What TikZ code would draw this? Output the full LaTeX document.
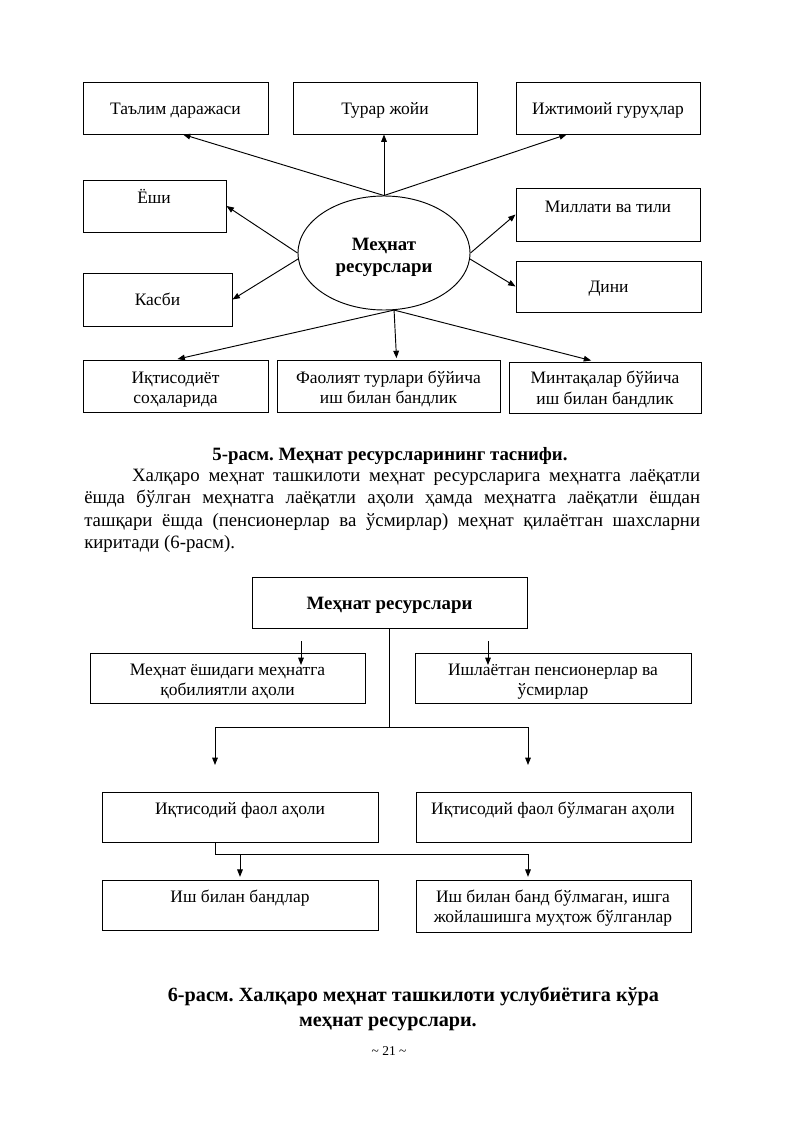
\documentclass[tikz,border=0pt]{standalone}
\usepackage{fontspec}
\setmainfont{Liberation Serif}
\frenchspacing
\usetikzlibrary{arrows.meta,shapes.geometric,fit,calc}
\begin{document}
\begin{tikzpicture}[x=0.74375pt,y=-0.74375pt,
  box/.style={draw,line width=0.7pt,inner sep=0pt,rectangle},
  lbl/.style={font=\fontsize{13}{15}\selectfont,align=center,inner sep=0pt},
  one/.style={lbl,text height=9.6pt,text depth=0pt},
  ttl/.style={font=\fontsize{14}{16.5}\selectfont\bfseries,align=center,inner sep=0pt},
  ttlone/.style={ttl,text height=10pt,text depth=0pt},
  capt/.style={font=\fontsize{15}{18}\selectfont\bfseries,align=center,inner sep=0pt,text height=10.5pt,text depth=0pt},
  arr/.style={line width=0.7pt,-{Triangle[length=5.5pt,width=4.2pt]}},
  ln/.style={line width=0.7pt}]
\useasboundingbox[fill=white] (0,0) rectangle (800,1131);

% ---------- Figure 5 ----------
\node[box,fit={(83,82) (268,134)}] (tal) {};
\node[one] (talT) at (tal) {Таълим даражаси};
\node[box,fit={(293,82) (477,134)}] (tur) {};
\node[one] (turT) at (tur) {Турар жойи};
\node[box,fit={(516,82) (700,134)}] (ijt) {};
\node[one] (ijtT) at (ijt) {Ижтимоий гуруҳлар};
\node[box,fit={(83,180) (226,232)}] (esh) {};
\node[one] (eshT) at (154,197.5) {Ёши};
\node[box,fit={(83,273) (232,326)}] (kas) {};
\node[one] (kasT) at (kas) {Касби};
\node[box,fit={(516,188) (700,241)}] (mil) {};
\node[one] (milT) at (608,206) {Миллати ва тили};
\node[box,fit={(516,261) (701,312)}] (din) {};
\node[one] (dinT) at (din) {Дини};
\node[ellipse,draw,line width=0.7pt,minimum width=172*0.74375pt,minimum height=114*0.74375pt,inner sep=0pt] (mr) at (384,253) {};
\node[ttl] (mrT) at (384,257) {Меҳнат\\ресурслари};
\node[box,fit={(83,360) (268,412)}] (iqt) {};
\node[lbl] (iqtT) at (175.5,390) {Иқтисодиёт\\соҳаларида};
\node[box,fit={(277,360) (500,412)}] (fao) {};
\node[lbl] (faoT) at (388.5,388.7) {Фаолият турлари бўйича\\иш билан бандлик};
\node[box,fit={(509,362) (701,413)}] (min) {};
\node[lbl] (minT) at (605,389.5) {Минтақалар бўйича\\иш билан бандлик};

\draw[arr] (mr.north) -- ([xshift=5.6pt]tal.south);
\draw[arr] (mr.north) -- (mr.north |- tur.south);
\draw[arr] (mr.north) -- ([xshift=-30.7pt]ijt.south);
\draw[arr] (mr.west) -- (esh.east);
\draw[arr] (mr.184) -- (kas.east);
\draw[arr] (mr.east) -- (mil.west);
\draw[arr] (mr.-4) -- (din.west);
\draw[arr,shorten >=1.5pt] (mr.-80) -- (iqt.north);
\draw[arr,shorten >=1pt] (mr.-80) -- ([xshift=6pt]fao.north);
\draw[arr,shorten >=3pt] (mr.-80) -- ([xshift=-7.4pt]min.north);

\node[ttlone] (cap5) at (390,453.3) {5-расм. Меҳнат ресурсларининг таснифи.};
\node[inner sep=0pt,text width=458pt,align=justify,anchor=north west,font=\fontsize{14}{16.6}\selectfont] (par) at (84,465.5)
 {\noindent\strut\hspace*{35.5pt}Халқаро меҳнат ташкилоти меҳнат ресурсларига меҳнатга лаёқатли\linebreak
  ёшда бўлган меҳнатга лаёқатли аҳоли ҳамда меҳнатга лаёқатли ёшдан\linebreak
  ташқари ёшда (пенсионерлар ва ўсмирлар) меҳнат қилаётган шахсларни\linebreak
  киритади (6-расм).};

% ---------- Figure 6 ----------
\node[box,fit={(252,577) (527,628)}] (mr2) {};
\node[ttlone] (mr2T) at (mr2) {Меҳнат ресурслари};
\node[box,fit={(90,653) (365,703)}] (mya) {};
\node[lbl] (myaT) at (227.5,681.7) {Меҳнат ёшидаги меҳнатга\\қобилиятли аҳоли};
\node[box,fit={(415,653) (691,703)}] (ips) {};
\node[lbl] (ipsT) at (553,681.7) {Ишлаётган пенсионерлар ва\\ўсмирлар};
\node[box,fit={(102,792) (378,842)}] (ifa) {};
\node[one] (ifaT) at (240,808.3) {Иқтисодий фаол аҳоли};
\node[box,fit={(416,792) (691,842)}] (ifb) {};
\node[one] (ifbT) at (553,808.3) {Иқтисодий фаол бўлмаган аҳоли};
\node[box,fit={(102,880) (378,930)}] (ibb) {};
\node[one] (ibbT) at (240,896) {Иш билан бандлар};
\node[box,fit={(416,880) (691,932)}] (ibm) {};
\node[lbl] (ibmT) at (553,908.4) {Иш билан банд бўлмаган, ишга\\жойлашишга муҳтож бўлганлар};

\coordinate (hL) at (215,727);
\coordinate (hR) at (528,727);
\coordinate (aL) at (215,765);
\coordinate (aR) at (528,765);
\draw[ln] (mr2.south) -- (mr2.south |- hL);
\draw[ln] (hL) -- (hR);
\draw[arr] (hL) -- (aL);
\draw[arr] (hR) -- (aR);

\coordinate (s1a) at (301,641);
\coordinate (s1b) at (301,665);
\coordinate (s2a) at (488,641);
\coordinate (s2b) at (488,665);
\draw[arr] (s1a) -- (s1b);
\draw[arr] (s2a) -- (s2b);

\coordinate (hL2) at (215,854);
\coordinate (hM2) at (240,854);
\coordinate (hR2) at (528,854);
\draw[ln] (ifa.south -| hL2) -- (hL2) -- (hR2);
\draw[arr,shorten >=2pt] (hM2) -- (hM2 |- ibb.north);
\draw[arr,shorten >=2pt] (hR2) -- (hR2 |- ibm.north);

\node[capt] (cap6a) at (413.5,994) {6-расм. Халқаро меҳнат ташкилоти услубиётига кўра};
\node[capt] (cap6b) at (388,1019) {меҳнат ресурслари.};
\node[font=\fontsize{10}{12}\selectfont,inner sep=0pt,text height=7pt,text depth=2pt] (pg) at (389,1052.5) {\textasciitilde{} 21 \textasciitilde{}};
\end{tikzpicture}
\end{document}
